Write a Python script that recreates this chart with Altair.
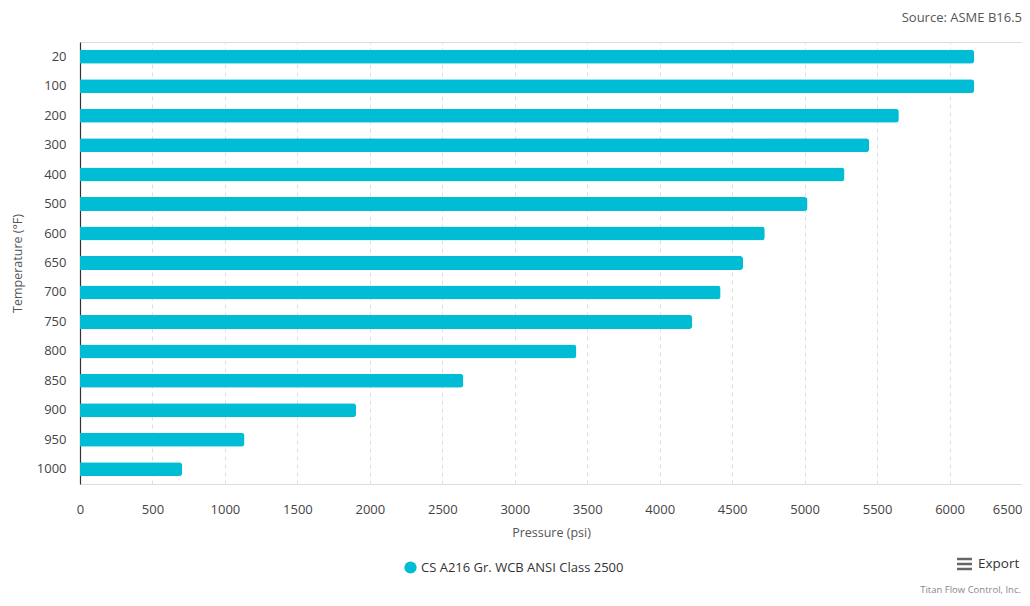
import altair as alt
import pandas as pd

temperatures = ["20", "100", "200", "300", "400", "500", "600", "650", "700", "750", "800", "850", "900", "950", "1000"]
pressures = [6170, 6170, 5650, 5445, 5275, 5020, 4725, 4575, 4420, 4225, 3425, 2645, 1905, 1135, 705]
series_name = "CS A216 Gr. WCB ANSI Class 2500"
x_ticks = [0, 500, 1000, 1500, 2000, 2500, 3000, 3500, 4000, 4500, 5000, 5500, 6000, 6500]

df = pd.DataFrame({"Temperature": temperatures, "Pressure": pressures, "Series": series_name})

FONT = "Open Sans"
W, H = 942, 442

bars = alt.Chart(df).mark_bar(cornerRadiusEnd=3, height=14).encode(
    x=alt.X("Pressure:Q",
            scale=alt.Scale(domain=[0, 6500], nice=False),
            axis=alt.Axis(values=x_ticks, format="d", labelFlush=False,
                          labelAlign=alt.expr("datum.value >= 6500 ? 'right' : 'center'"),
                          title="Pressure (psi)", grid=True,
                          gridDash=[4, 4], gridColor="#dedede", domain=False, ticks=False,
                          labelPadding=19, labelFontSize=13, labelColor="#444",
                          titleFontSize=12.5, titleColor="#555", titleFontWeight="normal",
                          titlePadding=10, labelFont=FONT, titleFont=FONT)),
    y=alt.Y("Temperature:N", sort=temperatures,
            scale=alt.Scale(paddingInner=0.5, paddingOuter=0.25),
            axis=alt.Axis(title="Temperature (°F)", grid=False, ticks=False,
                          domainColor="#333", domainWidth=1.2,
                          labelPadding=14, labelFontSize=13, labelColor="#444",
                          titleFontSize=12.5, titleColor="#555", titleFontWeight="normal",
                          titlePadding=12, labelFont=FONT, titleFont=FONT)),
    color=alt.Color("Series:N", scale=alt.Scale(range=["#00BCD4"]),
                    legend=alt.Legend(title=None, orient="none", legendX=324, legendY=519,
                                      symbolType="circle", symbolSize=150, symbolStrokeWidth=0,
                                      labelFontSize=13, labelColor="#333", labelFont=FONT,
                                      labelLimit=0, symbolOpacity=1)),
)

source = alt.Chart(pd.DataFrame({"t": ["Source: ASME B16.5"]})).mark_text(
    align="right", baseline="middle", fontSize=13, color="#555", font=FONT
).encode(text="t:N", x=alt.value(W), y=alt.value(-24))

credit = alt.Chart(pd.DataFrame({"t": ["Titan Flow Control, Inc."]})).mark_text(
    align="right", baseline="middle", fontSize=9.5, color="#888", font=FONT
).encode(text="t:N", x=alt.value(W - 1), y=alt.value(548))

export = alt.Chart(pd.DataFrame({"t": ["Export"]})).mark_text(
    align="left", baseline="middle", fontSize=13.5, color="#333", font=FONT
).encode(text="t:N", x=alt.value(898), y=alt.value(522))

icon_rows = pd.DataFrame({"row": [517, 522, 527]})
icon = alt.Chart(icon_rows).mark_rule(color="#666", strokeWidth=2.5).encode(
    x=alt.value(877), x2=alt.value(892), y=alt.Y("row:Q", scale=None)
)

chart = alt.layer(bars, source, credit, export, icon).properties(
    width=W, height=H,
    autosize=alt.AutoSizeParams(type="none"),
    padding={"left": 72, "top": 34, "right": 0, "bottom": 114},
).configure_view(stroke=None).configure(font=FONT)

chart.save("out.html", embed_options={"renderer": "svg", "actions": False})
